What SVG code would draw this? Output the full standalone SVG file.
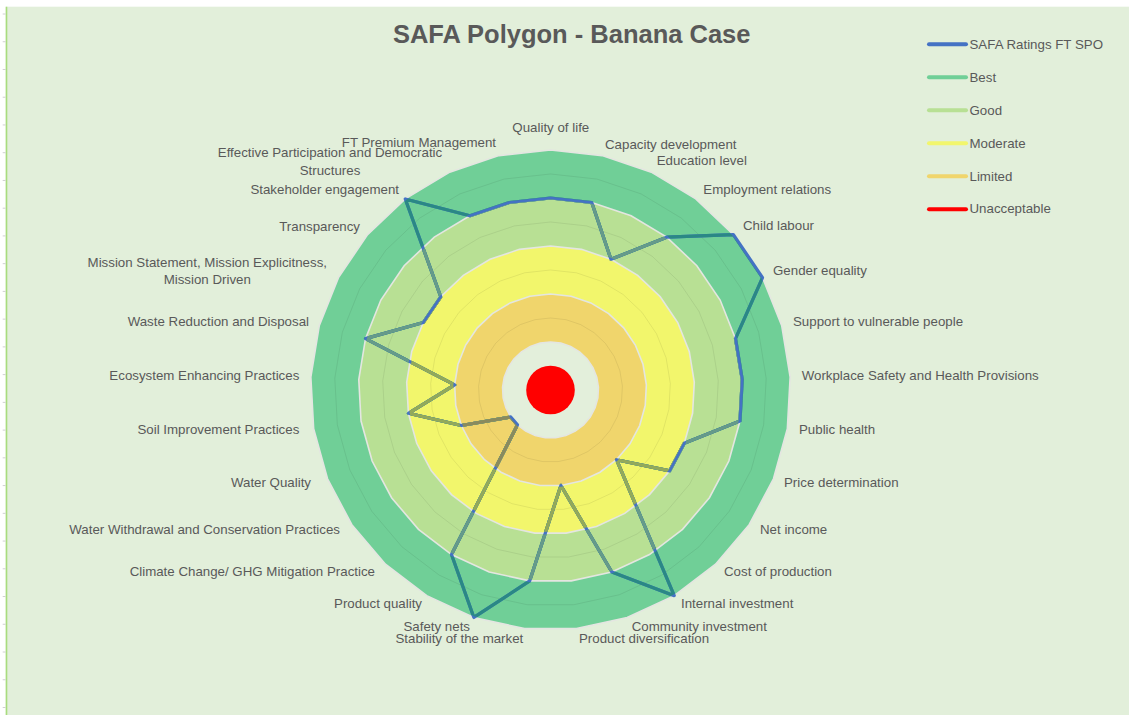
<svg xmlns="http://www.w3.org/2000/svg" xmlns:xlink="http://www.w3.org/1999/xlink" width="1129" height="715" viewBox="0 0 1129 715">
<style>
.lbl{font-family:"Liberation Sans",Arial,sans-serif;font-size:13.3px;fill:#595959}
.ttl{font-family:"Liberation Sans",Arial,sans-serif;font-size:25.5px;font-weight:bold;fill:#595959}
.s{text-anchor:start}.e{text-anchor:end}.m{text-anchor:middle}
.bd{stroke:#E4E6E1;stroke-width:1.6}
.gr{fill:none;stroke:#000;stroke-opacity:0.07;stroke-width:1}
.lg{stroke-width:4;stroke-linecap:round}
.ln{fill:none;stroke-width:3.2;stroke-linejoin:round}
</style>
<defs>
<polygon id="u" vector-effect="non-scaling-stroke" points="0,-100 21.497,-97.662 41.989,-90.758 60.517,-79.609 76.217,-64.738 88.351,-46.841 96.355,-26.753 99.853,-5.414 98.683,16.178 92.898,37.014 82.769,56.119 68.770,72.600 51.555,85.686 31.930,94.765 10.812,99.414 -10.812,99.414 -31.930,94.765 -51.555,85.686 -68.770,72.600 -82.769,56.119 -92.898,37.014 -98.683,16.178 -99.853,-5.414 -96.355,-26.753 -88.351,-46.841 -76.217,-64.738 -60.517,-79.609 -41.989,-90.758 -21.497,-97.662"/>
<polygon id="ser" points="550.5,198 591.77,202.49 610.96,259.31 666.69,237.15 733.42,234.63 762.54,277.58 735.5,338.63 742.22,379.61 739.97,421.06 684.27,443.3 669.69,470.81 616.52,459.7 674.23,595.65 611.81,571.95 560.88,485.44 529.74,580.87 473.87,617.44 451.51,554.52 517.49,424.85 510.77,416.94 461.32,425.53 408.4,413.3 454.64,384.8 365.5,338.63 423.27,322.55 440.75,296.78 405.26,198.94 469.88,215.74 509.23,202.49"/>
<clipPath id="c240"><use xlink:href="#u" transform="translate(550.5 390) scale(2.4)"/></clipPath>
<clipPath id="c192"><use xlink:href="#u" transform="translate(550.5 390) scale(1.92)"/></clipPath>
<clipPath id="c144"><use xlink:href="#u" transform="translate(550.5 390) scale(1.44)"/></clipPath>
<clipPath id="c96"><use xlink:href="#u" transform="translate(550.5 390) scale(0.96)"/></clipPath>
<mask id="m" maskUnits="userSpaceOnUse" x="0" y="0" width="1129" height="715">
<rect x="0" y="0" width="1129" height="715" fill="#fff"/>
<g fill="none" stroke="#000" stroke-width="2.6">
<use xlink:href="#u" transform="translate(550.5 390) scale(2.4)"/>
<use xlink:href="#u" transform="translate(550.5 390) scale(1.92)"/>
<use xlink:href="#u" transform="translate(550.5 390) scale(1.44)"/>
<use xlink:href="#u" transform="translate(550.5 390) scale(0.96)"/>
</g>
<use xlink:href="#u" transform="translate(550.5 390) scale(0.49)" fill="#000"/>
</mask>
</defs>

<g id="background">
<rect x="0" y="0" width="1129" height="715" fill="#E2EFDA"/>
<rect x="0" y="0" width="1129" height="6.7" fill="#FFFFFF"/>
<rect x="0" y="0" width="5.7" height="715" fill="#FFFFFF"/>
<line x1="6.5" y1="6.7" x2="6.5" y2="715" stroke="#A9DC7E" stroke-width="1.6"/>
<path d="M2.7 14H5.7M2.7 41.74H5.7M2.7 69.48H5.7M2.7 97.22H5.7M2.7 124.96H5.7M2.7 152.7H5.7M2.7 180.44H5.7M2.7 208.18H5.7M2.7 235.92H5.7M2.7 263.66H5.7M2.7 291.4H5.7M2.7 319.14H5.7M2.7 346.88H5.7M2.7 374.62H5.7M2.7 402.36H5.7M2.7 430.1H5.7M2.7 457.84H5.7M2.7 485.58H5.7M2.7 513.32H5.7M2.7 541.06H5.7M2.7 568.8H5.7M2.7 596.54H5.7M2.7 624.28H5.7M2.7 652.02H5.7M2.7 679.76H5.7M2.7 707.5H5.7" stroke="#D0D0D0" stroke-width="1"/>
</g>

<g id="title">
<text class="ttl m" x="571.7" y="43">SAFA Polygon - Banana Case</text>
</g>

<g id="bands">
<use id="band-best" xlink:href="#u" class="bd" transform="translate(550.5 390) scale(2.4)" fill="#70CF97"/>
<use id="band-good" xlink:href="#u" class="bd" transform="translate(550.5 390) scale(1.92)" fill="#B8E094"/>
<use id="band-moderate" xlink:href="#u" class="bd" transform="translate(550.5 390) scale(1.44)" fill="#F2F66C"/>
<use id="band-limited" xlink:href="#u" class="bd" transform="translate(550.5 390) scale(0.96)" fill="#F0D56C"/>
<use id="band-center" xlink:href="#u" class="bd" transform="translate(550.5 390) scale(0.48)" fill="#E3EFDB"/>
<circle id="unacceptable" cx="550.5" cy="390" r="24.3" fill="#FF0000"/>
</g>

<g id="gridlines">
<use xlink:href="#u" class="gr" transform="translate(550.5 390) scale(0.72)"/>
<use xlink:href="#u" class="gr" transform="translate(550.5 390) scale(1.2)"/>
<use xlink:href="#u" class="gr" transform="translate(550.5 390) scale(1.68)"/>
<use xlink:href="#u" class="gr" transform="translate(550.5 390) scale(2.16)"/>
</g>

<g id="connectors">
<use id="series-safa" xlink:href="#ser" class="ln" stroke="#4472C4"/>
<g id="series-tint" mask="url(#m)">
<use xlink:href="#ser" class="ln" stroke="#2A8885" clip-path="url(#c240)"/>
<use xlink:href="#ser" class="ln" stroke="#669A8A" clip-path="url(#c192)"/>
<use xlink:href="#ser" class="ln" stroke="#93A95A" clip-path="url(#c144)"/>
<use xlink:href="#ser" class="ln" stroke="#8A8A5E" clip-path="url(#c96)"/>
</g>
</g>

<g id="labels">
<text class="lbl m" x="550.8" y="132">Quality of life</text>
<text class="lbl s" x="605" y="148.5">Capacity development</text>
<text class="lbl s" x="656.7" y="165">Education level</text>
<text class="lbl s" x="703.3" y="193.5">Employment relations</text>
<text class="lbl s" x="743" y="230">Child labour</text>
<text class="lbl s" x="773" y="275">Gender equality</text>
<text class="lbl s" x="793" y="326">Support to vulnerable people</text>
<text class="lbl s" x="801.7" y="379.5">Workplace Safety and Health Provisions</text>
<text class="lbl s" x="799" y="433.5">Public health</text>
<text class="lbl s" x="784" y="486.5">Price determination</text>
<text class="lbl s" x="760" y="534">Net income</text>
<text class="lbl s" x="724" y="576">Cost of production</text>
<text class="lbl s" x="681" y="608">Internal investment</text>
<text class="lbl s" x="631.7" y="631">Community investment</text>
<text class="lbl s" x="579" y="642.5">Product diversification</text>
<text class="lbl e" x="523.3" y="642.5">Stability of the market</text>
<text class="lbl e" x="470" y="631">Safety nets</text>
<text class="lbl e" x="422" y="607.5">Product quality</text>
<text class="lbl e" x="375" y="576">Climate Change/ GHG Mitigation Practice</text>
<text class="lbl e" x="340" y="534">Water Withdrawal and Conservation Practices</text>
<text class="lbl e" x="311" y="486.5">Water Quality</text>
<text class="lbl e" x="299.3" y="433.5">Soil Improvement Practices</text>
<text class="lbl e" x="299.3" y="379.5">Ecosystem Enhancing Practices</text>
<text class="lbl e" x="309" y="326">Waste Reduction and Disposal</text>
<text class="lbl m" x="207.3" y="266.7">Mission Statement, Mission Explicitness,</text>
<text class="lbl m" x="207.3" y="284.3">Mission Driven</text>
<text class="lbl e" x="360" y="230.7">Transparency</text>
<text class="lbl e" x="399" y="193.5">Stakeholder engagement</text>
<text class="lbl m" x="330" y="156.7">Effective Participation and Democratic</text>
<text class="lbl m" x="330" y="175">Structures</text>
<text class="lbl e" x="496" y="146.7">FT Premium Management</text>
</g>

<g id="legend">
<g id="legend-safa"><line class="lg" x1="929" y1="44.3" x2="966" y2="44.3" stroke="#4472C4"/><text class="lbl s" x="969.5" y="49">SAFA Ratings FT SPO</text></g>
<g id="legend-best"><line class="lg" x1="929" y1="77.3" x2="966" y2="77.3" stroke="#70CF97"/><text class="lbl s" x="969.5" y="81.7">Best</text></g>
<g id="legend-good"><line class="lg" x1="929" y1="110.3" x2="966" y2="110.3" stroke="#B8E094"/><text class="lbl s" x="969.5" y="115">Good</text></g>
<g id="legend-moderate"><line class="lg" x1="929" y1="143.3" x2="966" y2="143.3" stroke="#F2F66C"/><text class="lbl s" x="969.5" y="148.3">Moderate</text></g>
<g id="legend-limited"><line class="lg" x1="929" y1="176.3" x2="966" y2="176.3" stroke="#F0D56C"/><text class="lbl s" x="969.5" y="181">Limited</text></g>
<g id="legend-unacceptable"><line class="lg" x1="929" y1="209.3" x2="966" y2="209.3" stroke="#FF0000"/><text class="lbl s" x="969.5" y="213.3">Unacceptable</text></g>
</g>
</svg>
